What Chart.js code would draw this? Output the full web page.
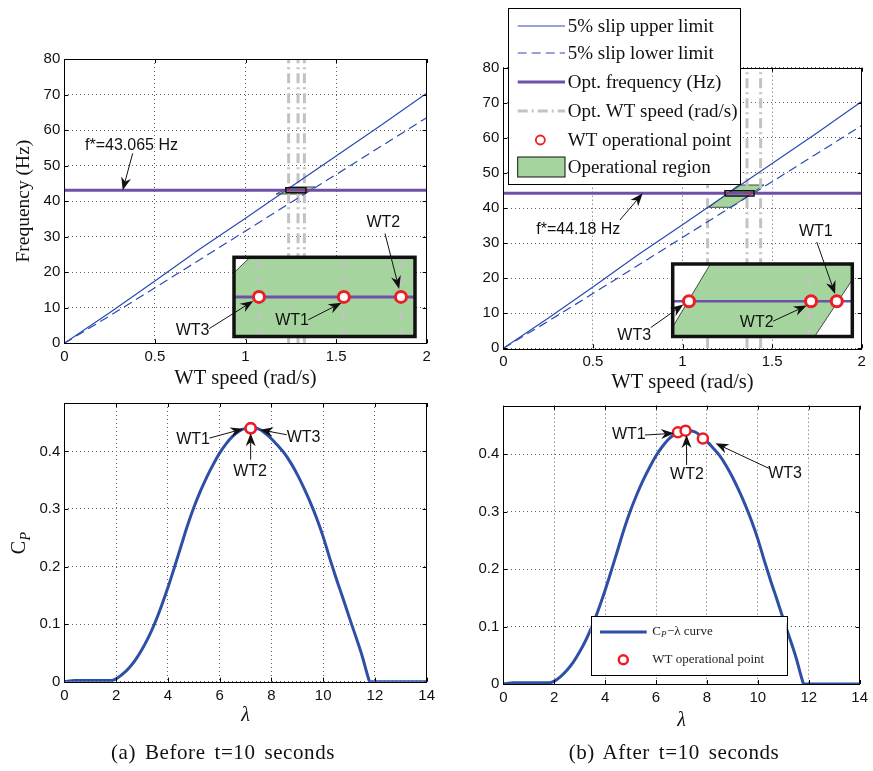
<!DOCTYPE html>
<html><head><meta charset="utf-8">
<script src="https://cdn.jsdelivr.net/npm/chart.js@4.4.0/dist/chart.umd.min.js"></script>
<style>
html,body{margin:0;padding:0;background:#fff;}
#page{position:relative;width:873px;height:771px;overflow:hidden;background:#fff;}
canvas{position:absolute;}
.cap{position:absolute;font-family:'Liberation Serif',serif;font-size:21px;line-height:24px;color:#111;white-space:nowrap;transform:translateX(-50%);letter-spacing:0.6px;word-spacing:3px;}
</style></head><body>
<div id="page">
<canvas id="cTL" width="440" height="400" style="left:0;top:0"></canvas>
<canvas id="cTR" width="433" height="400" style="left:440px;top:0"></canvas>
<canvas id="cBL" width="440" height="381" style="left:0;top:390px"></canvas>
<canvas id="cBR" width="433" height="381" style="left:440px;top:390px"></canvas>
<canvas id="iTL" width="270" height="140" style="left:160px;top:205px"></canvas>
<canvas id="iTR" width="265" height="135" style="left:600px;top:210px"></canvas>
<div class="cap" style="left:223px;top:740px">(a) Before t=10 seconds</div>
<div class="cap" style="left:674px;top:740px">(b) After t=10 seconds</div>
</div>
<script>
// ---------------- data ----------------
const speedTicks = [0, 0.5, 1, 1.5, 2];
const freqTicks = [0, 10, 20, 30, 40, 50, 60, 70, 80];
const lambdaTicks = [0, 2, 4, 6, 8, 10, 12, 14];
const cpTicks = [0, 0.1, 0.2, 0.3, 0.4];
const cpMax = 0.484;

const slipSpeed = [0, 0.25, 0.5, 0.75, 1, 1.25, 1.5, 1.75, 2];
const slipUpper = [0, 8.6, 17.5, 26.6, 35.2, 44.0, 52.7, 61.4, 70.4];
const slipLower = [0, 7.7, 15.6, 23.6, 31.6, 39.6, 47.5, 55.5, 63.5];

const turbines = ['WT1', 'WT2', 'WT3'];
// (a) before t=10 s
const optFreqA = 43.065;
const optSpeedA = [1.238, 1.29, 1.325];
const opSpeedA = [1.29, 1.325, 1.238];
const regionSpeedA = [1.1688, 1.3202, 1.3827, 1.241];
const regionFreqA = [42.0, 42.0, 44.0, 44.0];
const zoomSpeedA = [1.2227, 1.3336];
const zoomFreqA = [42.365, 43.765];
const opLambdaA = [7.2, 7.2, 7.2];
const opCpA = [0.44, 0.44, 0.44];
// (b) after t=10 s
const optFreqB = 44.18;
const optSpeedB = [1.14, 1.36, 1.436];
const opSpeedB = [1.385, 1.3618, 1.2517];
const regionSpeedB = [1.147, 1.271, 1.455, 1.313];
const regionFreqB = [40.2, 40.2, 46.56, 46.56];
const zoomSpeedB = [1.237, 1.399];
const zoomFreqB = [43.45, 44.95];
const opLambdaB = [6.86, 7.16, 7.84];
const opCpB = [0.4377, 0.4406, 0.427];

// Cp-lambda curve
const lambdaCurve = [0, 0.4, 1.2, 1.8, 2.0, 2.25, 2.5, 2.75, 3.0, 3.25, 3.5, 3.75, 4.0, 4.25, 4.5, 4.75, 5.0, 5.25, 5.5, 5.75, 6.0, 6.25, 6.5, 6.75, 7.0, 7.2, 7.5, 7.75, 8.0, 8.25, 8.5, 8.75, 9.0, 9.25, 9.5, 9.75, 10.0, 10.25, 10.5, 10.75, 11.0, 11.25, 11.5, 11.75, 11.8, 12.5, 14];
const cpCurve = [0, 0.002, 0.002, 0.002, 0.005, 0.013, 0.024, 0.038, 0.056, 0.077, 0.102, 0.131, 0.163, 0.198, 0.234, 0.27, 0.302, 0.33, 0.355, 0.377, 0.397, 0.413, 0.426, 0.435, 0.44, 0.441, 0.439, 0.432, 0.422, 0.41, 0.397, 0.38, 0.36, 0.337, 0.312, 0.284, 0.252, 0.215, 0.18, 0.147, 0.113, 0.08, 0.046, 0.006, 0, 0, 0];

// ---------------- styles ----------------
const BLUE = '#2a49b2', CURVE = '#2d4fa6', PURPLE = '#6f50a9', GREEN = '#a5d49e', RED = '#ee1c24', GRAY = '#c2c2c2';
const SANS = "'Liberation Sans', Arial, sans-serif";
const SERIF = "'Liberation Serif', 'Times New Roman', serif";
const GRAY_DASH = [10, 4, 2, 4];

// ---------------- helpers ----------------
const xy = (xs, ys) => xs.map((x, i) => ({x, y: ys[i]}));
const same = (arr, v) => arr.map(() => v);
const vline = (x, yr) => [{x, y: yr[0]}, {x, y: yr[yr.length - 1]}];
const hline = (y, xr) => [{x: xr[0], y}, {x: xr[xr.length - 1], y}];
const rect = (xr, yr) => [{x: xr[0], y: yr[0]}, {x: xr[1], y: yr[0]}, {x: xr[1], y: yr[1]}, {x: xr[0], y: yr[1]}, {x: xr[0], y: yr[0]}];
const closed = (xs, ys) => { const p = xy(xs, ys); p.push(p[0]); return p; };

function lineDS(label, data, color, width, dash, order, extra) {
  return Object.assign({label, data, showLine: true, borderColor: color, borderWidth: width,
    borderDash: dash || [], pointRadius: 0, pointHoverRadius: 0, fill: false, order}, extra || {});
}
function pointsDS(data, radius, bw, fillCol, order) {
  return {label: 'WT operational point', data, showLine: false, pointRadius: radius, pointHoverRadius: radius,
    pointBorderWidth: bw, pointBorderColor: RED, pointBackgroundColor: fillCol, order};
}
function regionDS(data, order) {
  return {label: 'Operational region', data, showLine: true, fill: 'shape', backgroundColor: GREEN,
    borderColor: '#222', borderWidth: 0.8, pointRadius: 0, pointHoverRadius: 0, order};
}

function axis(o) {
  return {
    type: 'linear', min: o.min, max: o.max,
    afterBuildTicks: s => { s.ticks = o.ticks.map(v => ({value: v})); },
    afterFit: s => { if (o.horizontal) s.height = o.size; else s.width = o.size; },
    ticks: {font: {family: SANS, size: 15}, color: '#111', padding: o.horizontal ? 5 : 4,
      maxRotation: 0, autoSkip: false, callback: v => String(v)},
    grid: {color: '#5c5c5c', lineWidth: 1, drawTicks: false},
    border: {display: false, dash: [1, 3]},
    title: o.title ? {display: true, text: o.title.text, color: '#111', font: o.title.font, padding: o.title.padding} : {display: false}
  };
}
function mainOptions(padding, xs, ys) {
  return {responsive: false, animation: false, events: [], layout: {padding},
    plugins: {legend: {display: false}, tooltip: {enabled: false}},
    scales: {x: xs, y: ys}};
}
function insetOptions(padding, xr, yr) {
  return {responsive: false, animation: false, events: [], layout: {padding},
    plugins: {legend: {display: false}, tooltip: {enabled: false}},
    scales: {x: {type: 'linear', display: false, min: xr[0], max: xr[1]},
             y: {type: 'linear', display: false, min: yr[0], max: yr[1]}}};
}

function arrow(ctx, x0, y0, x1, y1) {
  const a = Math.atan2(y1 - y0, x1 - x0), c = Math.cos(a), s = Math.sin(a);
  const L = 13, W = 5, B = 9;
  ctx.beginPath(); ctx.moveTo(x0, y0); ctx.lineTo(x1 - c * B, y1 - s * B); ctx.stroke();
  const bx = x1 - c * L, by = y1 - s * L;
  ctx.beginPath(); ctx.moveTo(x1, y1);
  ctx.lineTo(bx - s * W, by + c * W);
  ctx.lineTo(x1 - c * B, y1 - s * B);
  ctx.lineTo(bx + s * W, by - c * W);
  ctx.closePath(); ctx.fill();
}
function annotPlugin(items) {
  return {id: 'annot', afterDraw(chart) {
    const {ctx} = chart, X = chart.scales.x, Y = chart.scales.y;
    ctx.save();
    ctx.fillStyle = '#111'; ctx.strokeStyle = '#111'; ctx.lineWidth = 1; ctx.setLineDash([]);
    ctx.font = '16px ' + SANS; ctx.textAlign = 'center'; ctx.textBaseline = 'middle';
    for (const a of items) {
      ctx.fillText(a.text, X.getPixelForValue(a.at[0]), Y.getPixelForValue(a.at[1]));
      arrow(ctx, X.getPixelForValue(a.from[0]), Y.getPixelForValue(a.from[1]),
                 X.getPixelForValue(a.to[0]), Y.getPixelForValue(a.to[1]));
    }
    ctx.restore();
  }};
}
const framePlugin = {id: 'frame', afterDatasetsDraw(chart) {
  const {ctx, chartArea: a} = chart, X = chart.scales.x, Y = chart.scales.y;
  ctx.save(); ctx.strokeStyle = '#000'; ctx.lineWidth = 1; ctx.setLineDash([]);
  ctx.strokeRect(Math.round(a.left) + 0.5, Math.round(a.top) + 0.5, Math.round(a.right - a.left), Math.round(a.bottom - a.top));
  ctx.beginPath();
  X.ticks.forEach(t => { const p = Math.round(X.getPixelForValue(t.value)) + 0.5;
    ctx.moveTo(p, a.bottom); ctx.lineTo(p, a.bottom - 4); ctx.moveTo(p, a.top); ctx.lineTo(p, a.top + 4); });
  Y.ticks.forEach(t => { const p = Math.round(Y.getPixelForValue(t.value)) + 0.5;
    ctx.moveTo(a.left, p); ctx.lineTo(a.left + 4, p); ctx.moveTo(a.right, p); ctx.lineTo(a.right - 4, p); });
  ctx.stroke(); ctx.restore();
}};
const insetFrame = {id: 'insetFrame',
  beforeDatasetsDraw(chart) { const {ctx, chartArea: a} = chart; ctx.save(); ctx.fillStyle = '#fff';
    ctx.fillRect(a.left, a.top, a.right - a.left, a.bottom - a.top); ctx.restore(); },
  afterDatasetsDraw(chart) { const {ctx, chartArea: a} = chart; ctx.save(); ctx.strokeStyle = '#111';
    ctx.lineWidth = 3.5; ctx.setLineDash([]); ctx.strokeRect(a.left, a.top, a.right - a.left, a.bottom - a.top); ctx.restore(); }
};

const speedTitle = (pad) => ({text: 'WT speed (rad/s)', font: {family: SERIF, size: 20.5}, padding: {top: 0, bottom: pad}});

// ================= (a) top: frequency vs speed =================
new Chart(document.getElementById('cTL'), {
  type: 'scatter',
  data: {datasets: [
    pointsDS(xy(opSpeedA, same(opSpeedA, optFreqA)), 1, 0, RED, 0),
    lineDS('', rect(zoomSpeedA, zoomFreqA), '#111', 1.5, [], 1),
    lineDS('Opt. frequency (Hz)', hline(optFreqA, speedTicks), PURPLE, 3, [], 2),
    lineDS('5% slip upper limit', xy(slipSpeed, slipUpper), BLUE, 1.2, [], 3),
    lineDS('5% slip lower limit', xy(slipSpeed, slipLower), BLUE, 1.2, [9, 5], 3),
    ...optSpeedA.map((s, i) => lineDS(i ? '' : 'Opt. WT speed (rad/s)', vline(s, freqTicks), GRAY, 3, GRAY_DASH, 4)),
    regionDS(closed(regionSpeedA, regionFreqA), 5)
  ]},
  options: mainOptions({left: 0, right: 13.3, top: 59, bottom: 0},
    axis({min: 0, max: 2, ticks: speedTicks, horizontal: true, size: 56.7, title: speedTitle(9)}),
    axis({min: 0, max: 80, ticks: freqTicks, size: 64.3,
      title: {text: 'Frequency (Hz)', font: {family: SERIF, size: 19.5}, padding: {top: 12, bottom: 0}}})),
  plugins: [framePlugin, annotPlugin([
    {text: 'f*=43.065 Hz', at: [0.371, 55.5], from: [0.3775, 53.46], to: [0.3223, optFreqA]}
  ])]
});

new Chart(document.getElementById('iTL'), {
  type: 'scatter',
  data: {datasets: [
    pointsDS(xy(opSpeedA, same(opSpeedA, optFreqA)), 5.5, 3, '#fff', 0),
    lineDS('Opt. frequency (Hz)', hline(optFreqA, zoomSpeedA), PURPLE, 3, [], 2),
    ...optSpeedA.map(s => lineDS('', vline(s, zoomFreqA), GRAY, 3, [8, 9], 4)),
    regionDS(closed(regionSpeedA, regionFreqA), 5)
  ]},
  options: insetOptions({left: 74, right: 15, top: 52.3, bottom: 8.3}, zoomSpeedA, zoomFreqA),
  plugins: [insetFrame, annotPlugin([
    {text: turbines[1], at: [1.3142, 44.386], from: [1.3152, 44.185], to: [1.3239, 43.206]},
    {text: turbines[2], at: [1.1973, 42.478], from: [1.2075, 42.504], to: [1.2345, 42.993]},
    {text: turbines[0], at: [1.2583, 42.647], from: [1.2682, 42.66], to: [1.2886, 42.961]}
  ])]
});

// ================= (b) top: frequency vs speed =================
const legendOrderB = ['5% slip upper limit', '5% slip lower limit', 'Opt. frequency (Hz)', 'Opt. WT speed (rad/s)', 'WT operational point', 'Operational region'];
const legendTR = {id: 'legendTR', afterDraw(chart) {
  const ctx = chart.ctx; ctx.save();
  const bx = 68.3, by = 8.3, bw = 231.7, bh = 175.7;
  ctx.fillStyle = '#fff'; ctx.fillRect(bx, by, bw, bh);
  ctx.strokeStyle = '#000'; ctx.lineWidth = 1; ctx.setLineDash([]);
  ctx.strokeRect(Math.round(bx) + 0.5, Math.round(by) + 0.5, Math.round(bw), Math.round(bh));
  const rows = [26, 53, 82, 111, 140, 167];
  const x0 = 77.7, x1 = 125;
  legendOrderB.forEach((lbl, i) => {
    const d = chart.data.datasets.find(ds => ds.label === lbl);
    const y = rows[i];
    ctx.save();
    if (d.fill) {
      ctx.fillStyle = d.backgroundColor; ctx.fillRect(x0, y - 10, x1 - x0, 20);
      ctx.strokeStyle = '#111'; ctx.lineWidth = 1; ctx.strokeRect(x0, y - 10, x1 - x0, 20);
    } else if (d.showLine === false) {
      ctx.beginPath(); ctx.arc((x0 + x1) / 2 - 1, y, 4.5, 0, Math.PI * 2);
      ctx.fillStyle = '#fff'; ctx.fill(); ctx.strokeStyle = RED; ctx.lineWidth = 1.8; ctx.stroke();
    } else {
      ctx.strokeStyle = d.borderColor; ctx.lineWidth = d.borderWidth; ctx.setLineDash(d.borderDash || []);
      ctx.beginPath(); ctx.moveTo(x0, y); ctx.lineTo(x1, y); ctx.stroke();
    }
    ctx.restore();
    ctx.fillStyle = '#111'; ctx.font = '19px ' + SERIF; ctx.textAlign = 'left'; ctx.textBaseline = 'middle';
    ctx.fillText(lbl, 127.7, y + 1);
  });
  ctx.restore();
}};

new Chart(document.getElementById('cTR'), {
  type: 'scatter',
  data: {datasets: [
    pointsDS(xy(opSpeedB, same(opSpeedB, optFreqB)), 1, 0, RED, 0),
    lineDS('', rect(zoomSpeedB, zoomFreqB), '#111', 1.5, [], 1),
    lineDS('Opt. frequency (Hz)', hline(optFreqB, speedTicks), PURPLE, 3, [], 2),
    lineDS('5% slip upper limit', xy(slipSpeed, slipUpper), BLUE, 1.2, [], 3),
    lineDS('5% slip lower limit', xy(slipSpeed, slipLower), BLUE, 1.2, [9, 5], 3),
    ...optSpeedB.map((s, i) => lineDS(i ? '' : 'Opt. WT speed (rad/s)', vline(s, freqTicks), GRAY, 3, GRAY_DASH, 4)),
    regionDS(closed(regionSpeedB, regionFreqB), 5)
  ]},
  options: mainOptions({left: 0, right: 11.3, top: 67.7, bottom: 0},
    axis({min: 0, max: 2, ticks: speedTicks, horizontal: true, size: 51.7, title: speedTitle(5)}),
    axis({min: 0, max: 80, ticks: freqTicks, size: 63.3})),
  plugins: [framePlugin, annotPlugin([
    {text: 'f*=44.18 Hz', at: [0.4185, 33.73], from: [0.651, 36.58], to: [0.778, optFreqB]}
  ]), legendTR]
});

new Chart(document.getElementById('iTR'), {
  type: 'scatter',
  data: {datasets: [
    pointsDS(xy(opSpeedB, same(opSpeedB, optFreqB)), 5.5, 3, '#fff', 0),
    lineDS('Opt. frequency (Hz)', hline(optFreqB, zoomSpeedB), PURPLE, 2.5, [], 2),
    ...optSpeedB.map(s => lineDS('', vline(s, zoomFreqB), GRAY, 3, [8, 9], 4)),
    regionDS(closed(regionSpeedB, regionFreqB), 5)
  ]},
  options: insetOptions({left: 72.7, right: 12.7, top: 54, bottom: 7.7}, zoomSpeedB, zoomFreqB),
  plugins: [insetFrame, annotPlugin([
    {text: turbines[0], at: [1.3661, 45.625], from: [1.3669, 45.406], to: [1.3835, 44.33]},
    {text: turbines[2], at: [1.2023, 43.462], from: [1.2172, 43.634], to: [1.2466, 44.111]},
    {text: turbines[1], at: [1.3128, 43.737], from: [1.3277, 43.769], to: [1.3579, 44.09]}
  ])]
});

// ================= bottom: Cp - lambda =================
const lambdaTitle = (pad) => ({text: 'λ', font: {family: SERIF, size: 20, style: 'italic'}, padding: {top: 0, bottom: pad}});
const cpLabel = {id: 'cpLabel', afterDraw(chart) {
  const ctx = chart.ctx, a = chart.chartArea; ctx.save();
  ctx.translate(20, (a.top + a.bottom) / 2 + 1); ctx.rotate(-Math.PI / 2);
  ctx.fillStyle = '#111'; ctx.textBaseline = 'middle'; ctx.textAlign = 'left';
  ctx.font = '20px ' + SERIF; const w1 = ctx.measureText('C').width;
  ctx.font = 'italic 14px ' + SERIF; const w2 = ctx.measureText('P').width;
  const x0 = -(w1 + w2) / 2;
  ctx.font = '20px ' + SERIF; ctx.fillText('C', x0, 0);
  ctx.font = 'italic 14px ' + SERIF; ctx.fillText('P', x0 + w1 + 0.5, 6);
  ctx.restore();
}};

new Chart(document.getElementById('cBL'), {
  type: 'scatter',
  data: {datasets: [
    pointsDS(xy(opLambdaA, opCpA), 5, 2.5, '#fff', 0),
    lineDS('Cp-λ curve', xy(lambdaCurve, cpCurve), CURVE, 3, [], 1, {cubicInterpolationMode: 'monotone'})
  ]},
  options: mainOptions({left: 0, right: 13.3, top: 11.7, bottom: 0},
    axis({min: 0, max: 14, ticks: lambdaTicks, horizontal: true, size: 89.3, title: lambdaTitle(43)}),
    axis({min: 0, max: cpMax, ticks: cpTicks, size: 64.3})),
  plugins: [framePlugin, cpLabel, annotPlugin([
    {text: turbines[0], at: [4.973, 0.4202], from: [5.603, 0.423], to: [6.917, 0.4392]},
    {text: turbines[2], at: [9.243, 0.4247], from: [8.594, 0.4289], to: [7.562, 0.4375]},
    {text: turbines[1], at: [7.176, 0.3655], from: [7.2, 0.3857], to: [7.2, 0.4316]}
  ])]
});

const legendBR = {id: 'legendBR', afterDraw(chart) {
  const ctx = chart.ctx; ctx.save();
  const bx = 150.7, by = 226, bw = 196, bh = 58.7;
  ctx.fillStyle = '#fff'; ctx.fillRect(bx, by, bw, bh);
  ctx.strokeStyle = '#000'; ctx.lineWidth = 1; ctx.strokeRect(Math.round(bx) + 0.5, Math.round(by) + 0.5, Math.round(bw), Math.round(bh));
  const curve = chart.data.datasets[1];
  ctx.strokeStyle = curve.borderColor; ctx.lineWidth = curve.borderWidth;
  ctx.beginPath(); ctx.moveTo(160, 242); ctx.lineTo(206.7, 242); ctx.stroke();
  ctx.beginPath(); ctx.arc(183.3, 269.7, 4.5, 0, Math.PI * 2); ctx.fillStyle = '#fff'; ctx.fill();
  ctx.strokeStyle = RED; ctx.lineWidth = 2.5; ctx.stroke();
  ctx.fillStyle = '#222'; ctx.textBaseline = 'middle'; ctx.textAlign = 'left';
  let x = 212.3;
  ctx.font = '13px ' + SERIF; ctx.fillText('C', x, 242); x += ctx.measureText('C').width;
  ctx.font = 'italic 9px ' + SERIF; ctx.fillText('P', x, 245); x += ctx.measureText('P').width + 0.5;
  ctx.font = '13px ' + SERIF; ctx.fillText('−λ curve', x, 242);
  ctx.fillText('WT operational point', 212.3, 269.7);
  ctx.restore();
}};

new Chart(document.getElementById('cBR'), {
  type: 'scatter',
  data: {datasets: [
    pointsDS(xy(opLambdaB, opCpB), 5, 2.5, '#fff', 0),
    lineDS('Cp-λ curve', xy(lambdaCurve, cpCurve), CURVE, 3, [], 1, {cubicInterpolationMode: 'monotone'})
  ]},
  options: mainOptions({left: 0, right: 11.3, top: 15.7, bottom: 0},
    axis({min: 0, max: 14, ticks: lambdaTicks, horizontal: true, size: 87, title: lambdaTitle(38)}),
    axis({min: 0, max: cpMax, ticks: cpTicks, size: 63.3})),
  plugins: [framePlugin, annotPlugin([
    {text: turbines[0], at: [4.93, 0.433], from: [5.563, 0.433], to: [6.707, 0.436]},
    {text: turbines[1], at: [7.215, 0.3635], from: [7.2, 0.3809], to: [7.2, 0.433]},
    {text: turbines[2], at: [11.07, 0.3664], from: [10.43, 0.3751], to: [8.336, 0.4186]}
  ]), legendBR]
});
</script>
</body></html>
